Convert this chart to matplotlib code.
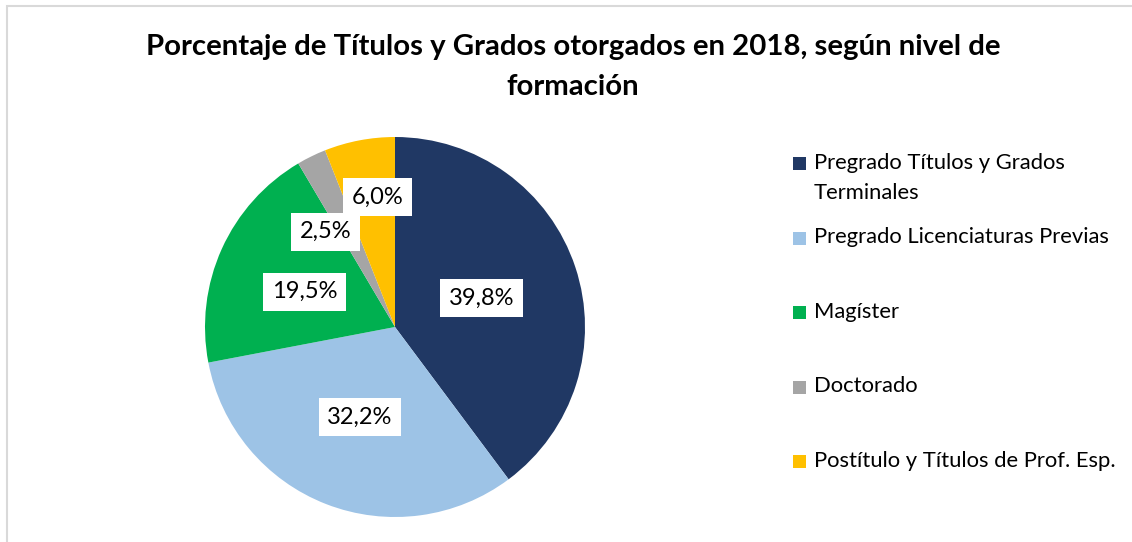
import numpy as np
import matplotlib.pyplot as plt
from matplotlib.patches import Rectangle

# ---- data ----
categories = ['Pregrado Títulos y Grados\nTerminales',
              'Pregrado Licenciaturas Previas',
              'Magíster',
              'Doctorado',
              'Postítulo y Títulos de Prof. Esp.']
shares = [39.8, 32.2, 19.5, 2.5, 6.0]
colors = ['#203864', '#9DC3E6', '#00B050', '#A5A5A5', '#FFC000']
title = 'Porcentaje de Títulos y Grados otorgados en 2018, según nivel de\nformación'

# label placement (radial distance, angle nudge in degrees)
label_dist = [0.48, 0.51, 0.51, 0.62, 0.69]
label_nudge = [0, 0, 3, 10, -3]

FONT = ['Lato', 'DejaVu Sans']
plt.rcParams['font.family'] = FONT

W, H = 1132, 542
fig = plt.figure(figsize=(W / 100, H / 100), dpi=100)

# light grey chart border (right/bottom edges fall outside the picture)
fig.patches.append(Rectangle((7 / W, -0.1), 1.2, 1 - 6 / H + 0.1,
                             transform=fig.transFigure, fill=False,
                             ec='#D9D9D9', lw=1.5))

fig.text(573 / W, 1 - 67 / H, title, ha='center', va='center',
         fontsize=21.2, fontweight='bold', linespacing=1.62)

# pie axes: centre (395, 327), radius 190 px
ax = fig.add_axes([205 / W, 1 - 517 / H, 380 / W, 380 / H])
wedges, _ = ax.pie(shares, colors=colors, startangle=90, counterclock=False,
                   radius=1.0, wedgeprops=dict(linewidth=0))
ax.set_xlim(-1, 1)
ax.set_ylim(-1, 1)
ax.set_aspect('equal')
ax.axis('off')

for w, val, d, nud in zip(wedges, shares, label_dist, label_nudge):
    ang = np.deg2rad((w.theta1 + w.theta2) / 2 + nud)
    ax.text(d * np.cos(ang), d * np.sin(ang), f'{val:.1f}%'.replace('.', ','),
            ha='center', va='center', fontsize=17, color='black',
            bbox=dict(boxstyle='square,pad=0.36', fc='white', ec='none'))

# legend drawn by hand to mimic Excel spacing
for i, (lab, col) in enumerate(zip(categories, colors)):
    y = 163 + 74.5 * i
    fig.patches.append(Rectangle((793 / W, 1 - (y + 7) / H), 13 / W, 13 / H,
                                 transform=fig.transFigure, fc=col, ec='none'))
    fig.text(814 / W, 1 - (y - 10) / H, lab, ha='left', va='top',
             fontsize=15.8, linespacing=1.6)

fig.savefig('out.png', dpi=100, facecolor='white')
